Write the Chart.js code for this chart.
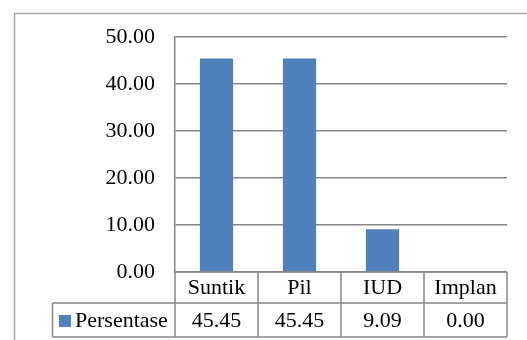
<!DOCTYPE html>
<html>
<head>
<meta charset="utf-8">
<script src="https://cdn.jsdelivr.net/npm/chart.js@4"></script>
<style>
  html, body { margin: 0; padding: 0; background: #fff; }
  #wrap { width: 527px; height: 340px; position: relative; }
</style>
</head>
<body>
<div id="wrap"><canvas id="grafik"></canvas></div>
<script>
// data dari gambar
var kategori = ['Suntik', 'Pil', 'IUD', 'Implan'];
var persentase = [45.45, 45.45, 9.09, 0.00];
var namaSeri = 'Persentase';
var tickY = [0, 10, 20, 30, 40, 50];

var biru = '#4f81bd';
var abu = '#868686';
var huruf = 'Liberation Serif';
var ukuran = 22;

// bingkai luar + tabel data di bawah grafik
var tabelData = {
  id: 'tabelData',
  beforeDraw: function (chart) {
    var ctx = chart.ctx;
    ctx.save();
    ctx.strokeStyle = '#a6a6a6';
    ctx.lineWidth = 1.5;
    ctx.beginPath();
    ctx.moveTo(14.5, 340);
    ctx.lineTo(14.5, 13.5);
    ctx.lineTo(527, 13.5);
    ctx.stroke();
    ctx.restore();
  },
  afterDraw: function (chart) {
    var ctx = chart.ctx;
    var area = chart.chartArea;
    var x = chart.scales.x;
    var kiriTabel = 52.5;
    var baris1 = area.bottom;
    var baris2 = baris1 + 31;
    var baris3 = baris2 + 34;
    var lebar = (area.right - area.left) / kategori.length;

    ctx.save();
    ctx.strokeStyle = abu;
    ctx.lineWidth = 1.5;
    ctx.beginPath();
    // garis horizontal
    ctx.moveTo(area.left, baris1); ctx.lineTo(area.right, baris1);
    ctx.moveTo(kiriTabel, baris2); ctx.lineTo(area.right, baris2);
    ctx.moveTo(kiriTabel, baris3); ctx.lineTo(area.right, baris3);
    // garis vertikal
    ctx.moveTo(kiriTabel, baris2); ctx.lineTo(kiriTabel, baris3);
    for (var i = 0; i <= kategori.length; i++) {
      var gx = area.left + i * lebar;
      ctx.moveTo(gx, baris1); ctx.lineTo(gx, baris3);
    }
    ctx.stroke();

    ctx.fillStyle = '#000';
    ctx.font = ukuran + 'px "' + huruf + '"';
    ctx.textAlign = 'center';
    ctx.textBaseline = 'middle';
    for (var j = 0; j < kategori.length; j++) {
      var cx = x.getPixelForValue(j);
      ctx.fillText(kategori[j], cx, (baris1 + baris2) / 2 + 1);
      ctx.fillText(persentase[j].toFixed(2), cx, (baris2 + baris3) / 2 + 1);
    }

    // kunci legenda
    ctx.fillStyle = biru;
    ctx.fillRect(59, 315, 12, 12);
    ctx.fillStyle = '#000';
    ctx.textAlign = 'left';
    ctx.fillText(namaSeri, 75, (baris2 + baris3) / 2 + 1);
    ctx.restore();
  }
};

new Chart(document.getElementById('grafik'), {
  type: 'bar',
  data: {
    labels: kategori,
    datasets: [{
      label: namaSeri,
      data: persentase,
      backgroundColor: biru,
      borderWidth: 0,
      categoryPercentage: 0.8,
      barPercentage: 0.5
    }]
  },
  options: {
    responsive: true,
    maintainAspectRatio: false,
    animation: false,
    layout: { padding: { top: 37, right: 20, bottom: 68, left: 0 } },
    plugins: {
      legend: { display: false },
      tooltip: { enabled: false }
    },
    scales: {
      x: {
        display: false
      },
      y: {
        min: 0,
        max: 50,
        afterFit: function (scale) { scale.width = 175; },
        afterBuildTicks: function (scale) {
          scale.ticks = tickY.map(function (v) { return { value: v }; });
        },
        border: { display: true, color: abu, width: 1.5 },
        grid: { color: abu, lineWidth: 1.5, drawTicks: false },
        ticks: {
          padding: 20,
          color: '#000',
          font: { family: '"' + huruf + '"', size: ukuran },
          callback: function (v) { return Number(v).toFixed(2); }
        }
      }
    }
  },
  plugins: [tabelData]
});
</script>
</body>
</html>
